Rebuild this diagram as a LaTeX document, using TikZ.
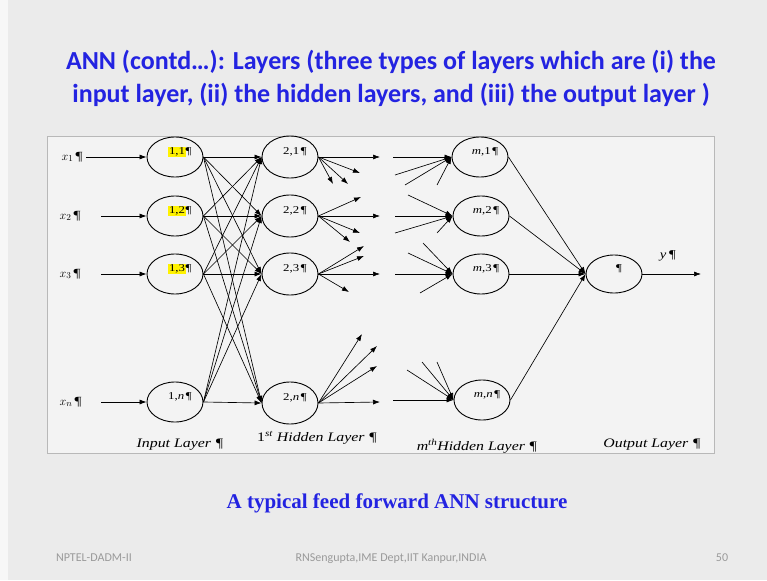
\documentclass[tikz,border=0pt]{standalone}
\usepackage{fontspec}
\setmainfont{Liberation Serif}
\newfontfamily\titlefont{Carlito}
\newfontfamily\wideserif[FakeStretch=1.22]{Liberation Serif}
\usetikzlibrary{shapes.geometric,arrows.meta}
\definecolor{slidebg}{HTML}{EBEBEB}
\definecolor{boxbg}{HTML}{F3F3F3}
\definecolor{boxline}{HTML}{B8B8B8}
\definecolor{titleblue}{RGB}{35,35,225}
\definecolor{footgray}{HTML}{9A9A9A}
\newcommand\hlt[1]{{\setlength{\fboxsep}{0.6pt}\colorbox{yellow}{#1}}}
\begin{document}
\begin{tikzpicture}[x=1pt,y=-1pt,
  neuron/.style={shape=ellipse, draw=black, minimum width=56pt, minimum height=40pt, inner sep=0pt, line width=0.9pt},
  nlbl/.style={label={[font=\wideserif\fontsize{10.5}{11}\selectfont, text=black, inner sep=0pt, xshift=5pt, yshift=5pt]center:#1}},
  conn/.style={draw=black, line width=0.65pt, -{Latex[length=7pt,width=5pt]}},
  xlbl/.style={font=\wideserif\fontsize{12.5}{14}\selectfont, text=black, anchor=east},
  layerlbl/.style={font=\wideserif\itshape\fontsize{13}{15}\selectfont, text=black, anchor=base},
  foot/.style={font=\titlefont\fontsize{12}{14}\selectfont, text=footgray, anchor=base},
]
\useasboundingbox (0,0) rectangle (767,580);
\fill[slidebg] (0,0) rectangle (767,580);
\fill[white!60!slidebg] (0,0) rectangle (8,580);

% title
\node[font=\titlefont\bfseries\fontsize{26}{33}\selectfont, text=titleblue, align=center] (title) at (391,78)
  {ANN (contd\dots): Layers (three types of layers which are (i) the\\ input layer, (ii) the hidden layers, and (iii) the output layer )};

% diagram frame
\draw[boxline, fill=boxbg, line width=0.8pt] (47,136) rectangle (714,453);

% input labels
\node[xlbl] (x1) at (86,157) {$x_1$\,¶};
\node[xlbl] (x2) at (84,216) {$x_2$\,¶};
\node[xlbl] (x3) at (84,274) {$x_3$\,¶};
\node[xlbl] (xn) at (85,402) {$x_n$\,¶};

% input layer
\node[neuron, nlbl={\hlt{1,1}¶}] (i1) at (175,157) {};
\node[neuron, nlbl={\hlt{1,2}¶}] (i2) at (175,216) {};
\node[neuron, nlbl={\hlt{1,3}¶}] (i3) at (175,274) {};
\node[neuron, nlbl={1,\textit{n}\,¶}] (in) at (175,402) {};

% first hidden layer
\node[neuron, minimum height=42pt, nlbl={2,1\,¶}] (h1) at (290,157) {};
\node[neuron, minimum height=42pt, nlbl={2,2\,¶}] (h2) at (290,216) {};
\node[neuron, minimum height=42pt, nlbl={2,3\,¶}] (h3) at (290,274) {};
\node[neuron, minimum height=42pt, nlbl={2,\textit{n}\,¶}] (hn) at (290,403) {};

% m-th hidden layer
\node[neuron, nlbl={\textit{m},1\,¶}] (m1) at (480,157) {};
\node[neuron, nlbl={\textit{m},2\,¶}] (m2) at (481,216) {};
\node[neuron, nlbl={\textit{m},3\,¶}] (m3) at (481,274) {};
\node[neuron, nlbl={\textit{m},\textit{n}\,¶}] (mn) at (482,400) {};

% output
\node[neuron, minimum height=38pt, nlbl={¶}] (out) at (614,274) {};
\coordinate (yend) at (701,274);
\node[font=\wideserif\itshape\fontsize{12}{13}\selectfont, text=black] (ylbl) at (668,256) {y\,¶};

% input arrows
\draw[conn] (x1) -- (i1);
\draw[conn, shorten <=17pt] (x2) -- (i2);
\draw[conn, shorten <=17pt] (x3) -- (i3);
\draw[conn, shorten <=16pt] (xn) -- (in);

% full connection input -> first hidden
\foreach \a in {i1,i2,i3,in}{
  \foreach \b in {h1,h2,h3,hn}{
    \draw[conn] (\a.east) -- (\b.west);
  }
}

% fan-out from first hidden layer
\coordinate (a11) at (380,157); \coordinate (a12) at (360,173);
\coordinate (a13) at (348,184); \coordinate (a14) at (333,184);
\coordinate (a21) at (361,197); \coordinate (a22) at (380,216);
\coordinate (a23) at (360,233); \coordinate (a24) at (350,242);
\coordinate (a31) at (364,246); \coordinate (a32) at (364,256);
\coordinate (a33) at (380,274); \coordinate (a34) at (349,292);
\coordinate (an1) at (362,334); \coordinate (an2) at (377,346);
\coordinate (an3) at (377,366); \coordinate (an4) at (380,402);
\foreach \c in {a11,a12,a13,a14}{\draw[conn] (h1.east) -- (\c);}
\foreach \c in {a21,a22,a23,a24}{\draw[conn] (h2.east) -- (\c);}
\foreach \c in {a31,a32,a33,a34}{\draw[conn] (h3.east) -- (\c);}
\foreach \c in {an1,an2,an3,an4}{\draw[conn] (hn.east) -- (\c);}

% fan-in to m-th hidden layer
\coordinate (b11) at (393,157); \coordinate (b12) at (395,175);
\coordinate (b13) at (405,185); \coordinate (b14) at (437,185);
\coordinate (b21) at (408,195); \coordinate (b22) at (395,216);
\coordinate (b23) at (395,233); \coordinate (b24) at (437,233);
\coordinate (b31) at (423,243); \coordinate (b32) at (408,253);
\coordinate (b33) at (395,274); \coordinate (b34) at (420,293);
\coordinate (bn1) at (393,400); \coordinate (bn2) at (407,370);
\coordinate (bn3) at (422,362); \coordinate (bn4) at (437,362);
\foreach \c in {b11,b12,b13,b14}{\draw[conn] (\c) -- (m1.west);}
\foreach \c in {b21,b22,b23,b24}{\draw[conn] (\c) -- (m2.west);}
\foreach \c in {b31,b32,b33,b34}{\draw[conn] (\c) -- (m3.west);}
\foreach \c in {bn1,bn2,bn3,bn4}{\draw[conn] (\c) -- (mn.west);}

% m-th layer -> output
\foreach \a in {m1,m2,m3,mn}{\draw[conn] (\a.east) -- (out.west);}
\draw[conn] (out.east) -- (yend);

% layer labels
\node[layerlbl] (l1) at (180,447) {Input Layer ¶};
\node[layerlbl] (l2) at (317,441) {{\upshape 1}\textsuperscript{st} Hidden Layer ¶};
\node[layerlbl] (l3) at (477,450) {m\textsuperscript{th}Hidden Layer ¶};
\node[layerlbl] (l4) at (652,447) {Output Layer ¶};

% caption
\node[font=\bfseries\fontsize{21}{24}\selectfont, text=titleblue] (cap) at (397,503) {A typical feed forward ANN structure};

% footer
\node[foot] (f1) at (94,561) {NPTEL-DADM-II};
\node[foot] (f2) at (391,561) {RNSengupta,IME Dept,IIT Kanpur,INDIA};
\node[foot] (f3) at (722,561) {50};
\end{tikzpicture}
\end{document}
